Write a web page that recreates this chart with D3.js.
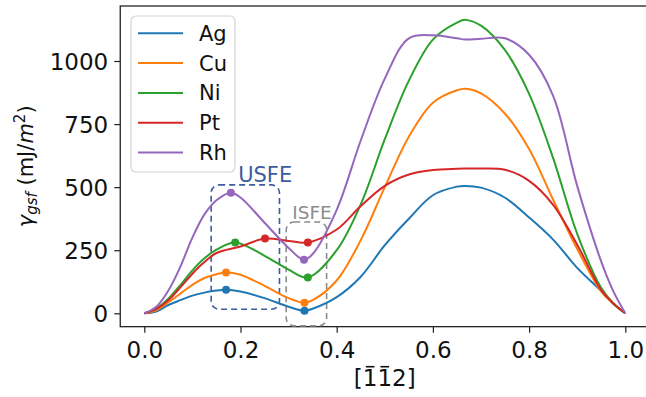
<!DOCTYPE html>
<html>
  <head>
    <meta charset="utf-8" />
    <script src="https://d3js.org/d3.v7.min.js"></script>
    <style>
      body { margin: 0; background: white; }
      svg { display: block; font-family: "DejaVu Sans", sans-serif; }
    </style>
  </head>
  <body>
    <svg id="canvas" width="646" height="397"></svg>
    <script>
      // data
      const metals = ["Ag", "Cu", "Ni", "Pt", "Rh"];
      const colors = ["#1f77b4", "#ff7f0e", "#2ca02c", "#d62728", "#9467bd"];
      const xGrid = [0, 0.025, 0.05, 0.075, 0.1, 0.125, 0.15, 0.2, 0.25, 0.3, 0.35, 0.4, 0.45, 0.5,
        0.55, 0.6, 0.65, 0.667, 0.7, 0.75, 0.8, 0.85, 0.9, 0.95, 0.975, 1];
      const agVals = [0, 7, 33, 52, 70, 82, 90, 86, 60, 26, 18, 64, 145, 270, 375, 468, 502, 505, 498, 458, 380, 292, 180, 88, 38, 0];
      const cuVals = [0, 12, 44, 78, 113, 140, 155, 153, 109, 60, 52, 130, 290, 500, 700, 835, 884, 890, 872, 791, 651, 450, 255, 86, 38, 0];
      const niVals = [0, 18, 58, 112, 170, 218, 252, 279, 228, 173, 146, 250, 432, 690, 922, 1085, 1152, 1163, 1140, 1043, 870, 615, 315, 100, 40, 0];
      const ptVals = [0, 18, 52, 103, 157, 203, 239, 265, 296, 287, 285, 332, 425, 505, 550, 568, 573, 574, 574, 569, 525, 430, 272, 92, 40, 0];
      const rhVals = [0, 26, 90, 185, 300, 392, 448, 459, 359, 259, 235, 410, 685, 930, 1090, 1102, 1090, 1085, 1088, 1090, 1025, 862, 505, 205, 88, 0];
      const usfeX = [0.17, 0.17, 0.189, 0.251, 0.18];
      const usfeY = [93, 162, 281, 296, 478];
      const isfeX = [0.333, 0.333, 0.34, 0.34, 0.332];
      const isfeY = [10, 42, 142, 281, 212];
      const xTicks = [0, 0.2, 0.4, 0.6, 0.8, 1.0];
      const yTicks = [0, 250, 500, 750, 1000];
      const usfeBox = { x: [0.139, 0.281], y: [16, 509] };
      const isfeBox = { x: [0.295, 0.379], y: [-50, 362] };

      const allVals = [agVals, cuVals, niVals, ptVals, rhVals];

      const svg = d3.select("#canvas");
      const xScale = d3.scaleLinear().domain([0, 1]).range([144.3, 625.3]);
      const yScale = d3.scaleLinear().domain([0, 1000]).range([313.3, 61.0]);
      const xMin = -0.05, xMax = 1.05, yMin = -53, yMax = 1218;

      const x0 = xScale(xMin), x1 = xScale(xMax);
      const yb = yScale(yMin), yt = yScale(yMax);

      // spines
      svg.append("rect")
        .attr("x", x0).attr("y", yt)
        .attr("width", x1 - x0).attr("height", yb - yt)
        .attr("fill", "none").attr("stroke", "#222").attr("stroke-width", 1.3);

      // x axis
      const xAxis = svg.append("g").attr("transform", `translate(0,${yb})`)
        .call(d3.axisBottom(xScale).tickValues(xTicks).tickFormat(d3.format(".1f")).tickSize(6).tickSizeOuter(0));
      xAxis.select(".domain").remove();
      xAxis.selectAll("line").attr("stroke", "#222").attr("stroke-width", 1.2);
      xAxis.selectAll("text").attr("font-size", 23).attr("fill", "#111")
        .attr("font-family", "DejaVu Sans").attr("dy", null).attr("y", 31.5);

      // y axis
      const yAxis = svg.append("g").attr("transform", `translate(${x0},0)`)
        .call(d3.axisLeft(yScale).tickValues(yTicks).tickFormat(d3.format("d")).tickSize(6).tickSizeOuter(0));
      yAxis.select(".domain").remove();
      yAxis.selectAll("line").attr("stroke", "#222").attr("stroke-width", 1.2);
      yAxis.selectAll("text").attr("font-size", 23).attr("fill", "#111")
        .attr("font-family", "DejaVu Sans").attr("x", -12).attr("dy", "0.36em");

      // annotation boxes
      function box(b, color, dash) {
        svg.append("rect")
          .attr("x", xScale(b.x[0])).attr("y", yScale(b.y[1]))
          .attr("width", xScale(b.x[1]) - xScale(b.x[0]))
          .attr("height", yScale(b.y[0]) - yScale(b.y[1]))
          .attr("rx", 8).attr("ry", 8)
          .attr("fill", "none").attr("stroke", color)
          .attr("stroke-width", 1.6).attr("stroke-dasharray", dash);
      }
      box(usfeBox, "#3d5c9e", "6,4");
      box(isfeBox, "#8c8c8c", "6,4");

      svg.append("text").text("USFE")
        .attr("x", xScale(usfeBox.x[0]) + 27).attr("y", yScale(usfeBox.y[1]) - 3)
        .attr("font-size", 21).attr("fill", "#3d5c9e");
      svg.append("text").text("ISFE")
        .attr("x", xScale(isfeBox.x[0]) + 6).attr("y", yScale(isfeBox.y[1]) - 3)
        .attr("font-size", 18.5).attr("fill", "#8c8c8c");

      // curves
      const line = d3.line()
        .x((d) => xScale(d.x))
        .y((d) => yScale(d.y))
        .curve(d3.curveCatmullRom.alpha(0.5));

      metals.forEach(function (m, i) {
        const marks = [
          { x: usfeX[i], y: usfeY[i] },
          { x: isfeX[i], y: isfeY[i] },
        ];
        let pts = xGrid
          .map((t, j) => ({ x: t, y: allVals[i][j] }))
          .filter((p) => marks.every((k) => Math.abs(k.x - p.x) > 0.012));
        pts = pts.concat(marks).sort((a, b) => a.x - b.x);

        svg.append("path")
          .datum(pts)
          .attr("d", line)
          .attr("fill", "none")
          .attr("stroke", colors[i])
          .attr("stroke-width", 2);

        svg.append("g")
          .selectAll("circle")
          .data(marks)
          .enter()
          .append("circle")
          .attr("cx", (d) => xScale(d.x))
          .attr("cy", (d) => yScale(d.y))
          .attr("r", 4)
          .attr("fill", colors[i]);
      });

      // legend
      const legend = svg.append("g");
      legend.append("rect")
        .attr("x", 131).attr("y", 16).attr("width", 104).attr("height", 156)
        .attr("rx", 5).attr("fill", "white").attr("fill-opacity", 0.8)
        .attr("stroke", "#d4d4d4").attr("stroke-width", 1.2);
      metals.forEach(function (m, i) {
        const yy = 33.3 + i * 29.8;
        legend.append("line")
          .attr("x1", 138).attr("x2", 183).attr("y1", yy).attr("y2", yy)
          .attr("stroke", colors[i]).attr("stroke-width", 2);
        legend.append("text").text(m)
          .attr("x", 199).attr("y", yy).attr("dy", "0.36em")
          .attr("font-size", 21).attr("fill", "#111");
      });

      // axis labels
      const yl = svg.append("text")
        .attr("transform", `translate(33,${(yt + yb) / 2}) rotate(-90)`)
        .attr("text-anchor", "middle").attr("font-size", 21).attr("fill", "#111");
      yl.append("tspan").attr("font-style", "italic").text("γ");
      yl.append("tspan").attr("font-style", "italic").attr("font-size", 15).attr("dy", 4).text("gsf");
      yl.append("tspan").attr("dy", -4).text(" (mJ/");
      yl.append("tspan").attr("font-style", "italic").text("m");
      yl.append("tspan").attr("font-size", 15).attr("dy", -8).text("2");
      yl.append("tspan").attr("dy", 8).text(")");

      const xlFont = 23, xlBase = 386;
      const xl = svg.append("text")
        .attr("x", xScale(0.5)).attr("y", xlBase)
        .attr("text-anchor", "middle").attr("font-size", xlFont).attr("fill", "#111")
        .text("[112]");
      // bars over the two "1" digits
      [1, 2].forEach(function (k) {
        const e = xl.node().getExtentOfChar(k);
        svg.append("line")
          .attr("x1", e.x + 3).attr("x2", e.x + e.width - 3)
          .attr("y1", xlBase - xlFont * 0.73 - 2.5).attr("y2", xlBase - xlFont * 0.73 - 2.5)
          .attr("stroke", "#111").attr("stroke-width", 1.6);
      });
    </script>
  </body>
</html>
